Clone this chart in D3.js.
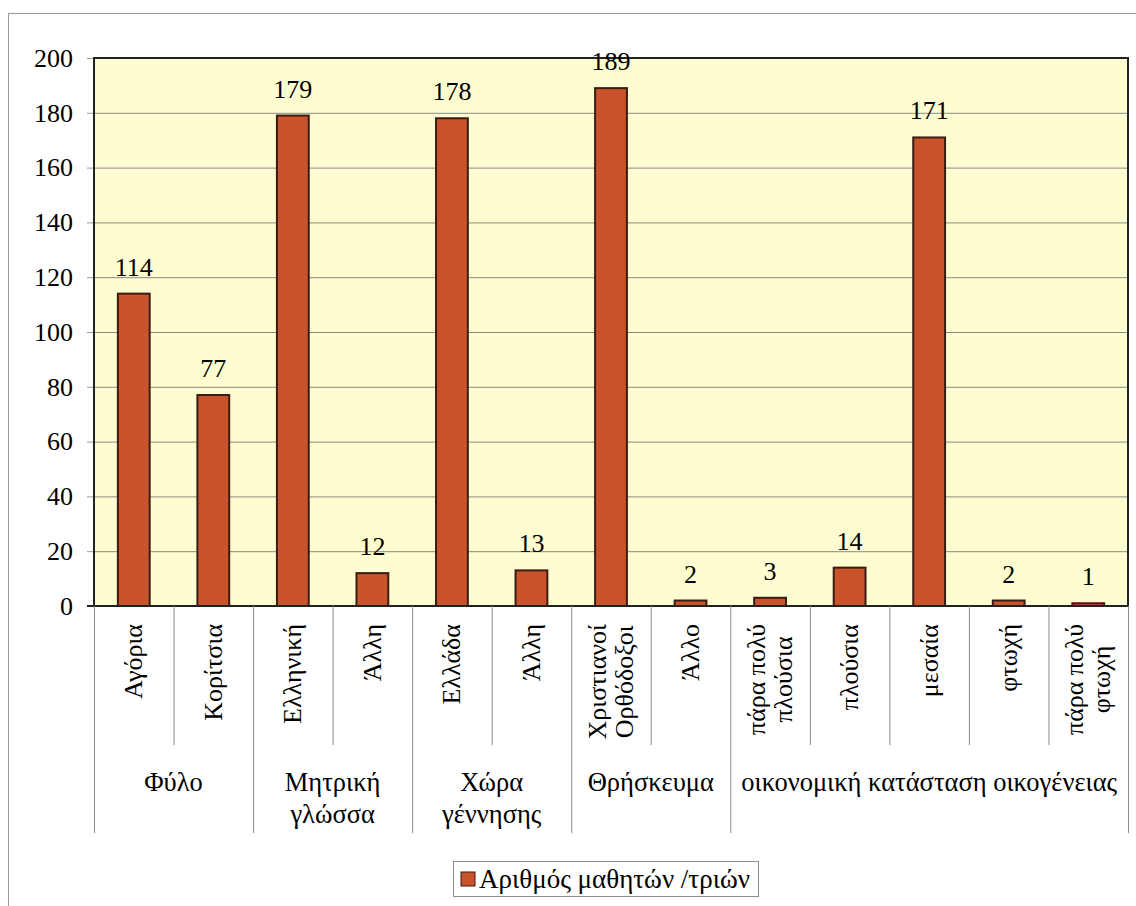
<!DOCTYPE html>
<html>
<head>
<meta charset="utf-8">
<script src="https://cdn.jsdelivr.net/npm/d3@7"></script>
</head>
<body style="margin:0; background:#fff">
<div id="chart"></div>
<script>
// svg size
var width = 1136;
var height = 906;
var serif = "Liberation Serif";

// chart data
var categories = ["Αγόρια", "Κορίτσια", "Ελληνική", "Άλλη", "Ελλάδα", "Άλλη",
                  "Χριστιανοί\nΟρθόδοξοι", "Άλλο", "πάρα πολύ\nπλούσια", "πλούσια",
                  "μεσαία", "φτωχή", "πάρα πολύ\nφτωχή"];
var values = [114, 77, 179, 12, 178, 13, 189, 2, 3, 14, 171, 2, 1];
var groupNames = ["Φύλο", "Μητρική\nγλώσσα", "Χώρα\nγέννησης", "Θρήσκευμα",
                  "οικονομική κατάσταση οικογένειας"];
var groupSizes = [2, 2, 2, 2, 5];
var yTicks = [0, 20, 40, 60, 80, 100, 120, 140, 160, 180, 200];
var seriesName = "Αριθμός μαθητών /τριών";

// plot area
var plot = {left: 94, right: 1128, top: 58, bottom: 606};

var svg = d3.select("#chart")
            .append("svg")
            .attr("width", width)
            .attr("height", height);

// outer frame
svg.append("rect")
   .attr("x", 8.5)
   .attr("y", 13.5)
   .attr("width", 1140)
   .attr("height", 900)
   .attr("fill", "none")
   .attr("stroke", "#9a9a9a")
   .attr("stroke-width", 1);

var x = d3.scaleBand()
          .domain(d3.range(categories.length))
          .range([plot.left, plot.right])
          .paddingInner(0.6)
          .paddingOuter(0.3);

var y = d3.scaleLinear()
          .domain([0, 200])
          .range([plot.bottom, plot.top]);

// plot background
svg.append("rect")
   .attr("x", plot.left)
   .attr("y", plot.top)
   .attr("width", plot.right - plot.left)
   .attr("height", plot.bottom - plot.top)
   .attr("fill", "#fefdd2");

// gridlines
svg.selectAll("line.grid")
   .data(yTicks.filter(function(d) { return d > 0 && d < 200; }))
   .enter()
   .append("line")
   .attr("class", "grid")
   .attr("x1", plot.left)
   .attr("x2", plot.right)
   .attr("y1", function(d) { return y(d) + 0.5; })
   .attr("y2", function(d) { return y(d) + 0.5; })
   .attr("stroke", "#8a8a80")
   .attr("stroke-width", 1);

// y axis
var yAxis = svg.append("g")
   .attr("transform", "translate(" + plot.left + ",0)")
   .call(d3.axisLeft(y).tickValues(yTicks).tickSize(7).tickPadding(14));
yAxis.attr("font-family", null).attr("font-size", null);
yAxis.select(".domain").remove();
yAxis.selectAll(".tick line").attr("stroke", "#999");
yAxis.selectAll(".tick text")
     .attr("font-family", serif)
     .attr("font-size", 26)
     .attr("fill", "#000");

// plot borders
svg.append("path")
   .attr("d", "M" + plot.left + "," + plot.bottom + "V" + plot.top + "H" + plot.right + "V" + plot.bottom)
   .attr("fill", "none")
   .attr("stroke", "#222")
   .attr("stroke-width", 2);

// bars
svg.selectAll("rect.bar")
   .data(values)
   .enter()
   .append("rect")
   .attr("class", "bar")
   .attr("x", function(d, i) { return x(i); })
   .attr("y", function(d) { return y(d); })
   .attr("width", x.bandwidth())
   .attr("height", function(d) { return y(0) - y(d); })
   .attr("fill", "#c9532b")
   .attr("stroke", "#3a1c12")
   .attr("stroke-width", 2);

// value labels
svg.selectAll("text.value")
   .data(values)
   .enter()
   .append("text")
   .attr("class", "value")
   .text(function(d) { return d; })
   .attr("font-family", serif)
   .attr("font-size", 26)
   .attr("fill", "#000")
   .attr("text-anchor", "middle")
   .attr("x", function(d, i) { return x(i) + x.bandwidth() / 2; })
   .attr("y", function(d) { return y(d) - 18; });

// bottom axis line
svg.append("line")
   .attr("x1", plot.left - 7)
   .attr("x2", plot.right)
   .attr("y1", plot.bottom)
   .attr("y2", plot.bottom)
   .attr("stroke", "#222")
   .attr("stroke-width", 2);

// category and group dividers
var step = x.step();
var groupStarts = [0];
groupSizes.forEach(function(s, i) { groupStarts.push(groupStarts[i] + s); });
var dividers = d3.range(categories.length + 1).map(function(i) {
  return {i: i, group: groupStarts.indexOf(i) >= 0};
});
svg.selectAll("line.divider")
   .data(dividers)
   .enter()
   .append("line")
   .attr("class", "divider")
   .attr("x1", function(d) { return plot.left + d.i * step + 0.5; })
   .attr("x2", function(d) { return plot.left + d.i * step + 0.5; })
   .attr("y1", plot.bottom)
   .attr("y2", function(d) { return d.group ? 833 : 745; })
   .attr("stroke", "#8c8c8c")
   .attr("stroke-width", 1);

// rotated category labels
var labelTop = 624;
svg.selectAll("text.cat")
   .data(categories)
   .enter()
   .append("text")
   .attr("class", "cat")
   .attr("font-family", serif)
   .attr("font-size", 26)
   .attr("fill", "#000")
   .each(function(d, i) {
     var el = d3.select(this);
     var lines = d.split("\n");
     var cx = x(i) + x.bandwidth() / 2;
     var lh = 27;
     lines.forEach(function(line, k) {
       el.append("tspan")
         .attr("x", 0)
         .attr("y", (k - (lines.length - 1) / 2) * lh)
         .attr("dominant-baseline", "central")
         .text(line);
     });
     var longest = d3.max(el.selectAll("tspan").nodes(), function(n) { return n.getComputedTextLength(); });
     el.attr("text-anchor", "middle")
       .attr("transform", "translate(" + cx + "," + (labelTop + longest / 2) + ") rotate(-90)");
   });

// group labels
svg.selectAll("text.group")
   .data(groupNames)
   .enter()
   .append("text")
   .attr("class", "group")
   .attr("font-family", serif)
   .attr("font-size", 26.5)
   .attr("fill", "#000")
   .attr("text-anchor", "middle")
   .each(function(d, i) {
     var el = d3.select(this);
     var gx = plot.left + (groupStarts[i] + groupSizes[i] / 2) * step;
     d.split("\n").forEach(function(line, k) {
       el.append("tspan")
         .attr("x", gx)
         .attr("y", 791 + k * 32)
         .text(line);
     });
   });

// legend
var legend = svg.append("g").attr("transform", "translate(453,861)");
legend.append("rect")
   .attr("x", 0.5)
   .attr("y", 0.5)
   .attr("width", 305)
   .attr("height", 35)
   .attr("fill", "#fff")
   .attr("stroke", "#8c8c8c");
legend.append("rect")
   .attr("x", 8)
   .attr("y", 11)
   .attr("width", 14)
   .attr("height", 14)
   .attr("fill", "#c9532b")
   .attr("stroke", "#3a1c12")
   .attr("stroke-width", 1);
legend.append("text")
   .text(seriesName)
   .attr("font-family", serif)
   .attr("font-size", 27)
   .attr("fill", "#000")
   .attr("x", 26)
   .attr("y", 27);
</script>
</body>
</html>
